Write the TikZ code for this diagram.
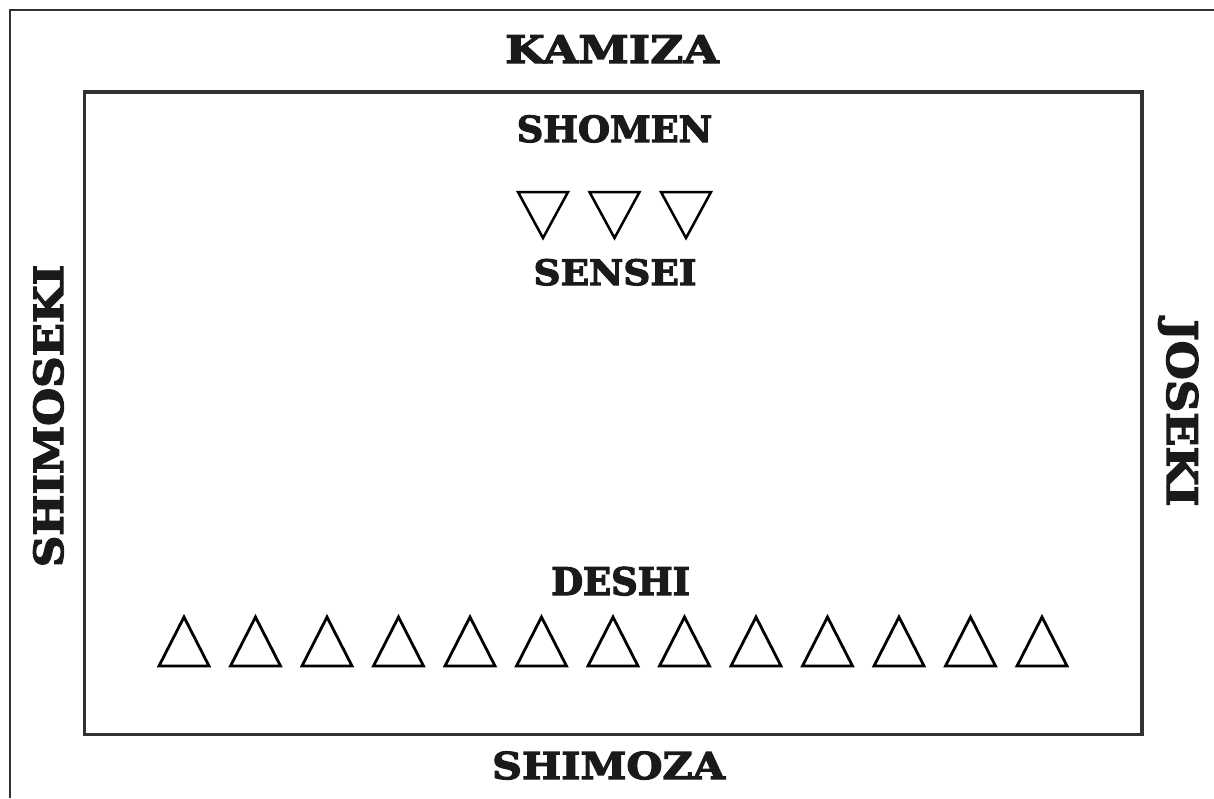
\documentclass[tikz,border=0pt]{standalone}
\usepackage{fontspec}
\usepackage{xcolor}
\newfontfamily\dojofont{DejaVu Serif}[FakeBold=3.2]
\definecolor{ink}{HTML}{1C1A19}
\definecolor{frameGray}{HTML}{35312D}
\tikzset{
  dojo label/.style 2 args={
    font=\dojofont\bfseries\fontsize{#1}{#1}\selectfont\addfontfeatures{FakeStretch=#2},
    text=ink,
    inner sep=0pt,
    anchor=base
  },
  mat frame/.style={
    draw=frameGray,
    line width=3.5pt
  },
  page frame/.style={
    draw=frameGray,
    line width=2pt
  },
  place mark/.style={
    draw=black,
    line width=2.8pt,
    line join=miter
  }
}

\begin{document}
\begin{tikzpicture}[x=1pt,y=-1pt]
  \useasboundingbox (0,0) rectangle (1214,798);

  % cut-off outer frame (only top and left edges show)
  \draw[page frame] (10,798) -- (10,10) -- (1214,10);

  % the mat
  \draw[mat frame] (84.5,92) rectangle (1142,734.5);

  % sides of the room
  \node[dojo label={38}{1.2}] (kamiza) at (612,63) {KAMIZA};
  \node[dojo label={37}{1.12}] (shimoza) at (608.5,779) {SHIMOZA};
  \node[dojo label={40}{1.09},rotate=90] (shimoseki) at (63,416) {SHIMOSEKI};
  \node[dojo label={42}{1.07},rotate=-90] (joseki) at (1167,413) {JOSEKI};

  % inside the mat
  \node[dojo label={36}{1.02}] (shomen) at (614.5,142) {SHOMEN};
  \node[dojo label={35}{1.07}] (sensei) at (615,285) {SENSEI};
  \node[dojo label={38}{0.97}] (deshi) at (620.5,595) {DESHI};

  % teachers, facing the students
  \foreach \x in {543,614.5,686}
    \draw[place mark,line width=2.5pt] (\x-25,192) -- (\x+25,192) -- (\x,238) -- cycle;

  % students, one row of thirteen
  \foreach \i in {0,...,12}
    \draw[place mark] ({184+71.5*\i-25},666) -- ({184+71.5*\i+25},666)
      -- ({184+71.5*\i},617) -- cycle;
\end{tikzpicture}
\end{document}
